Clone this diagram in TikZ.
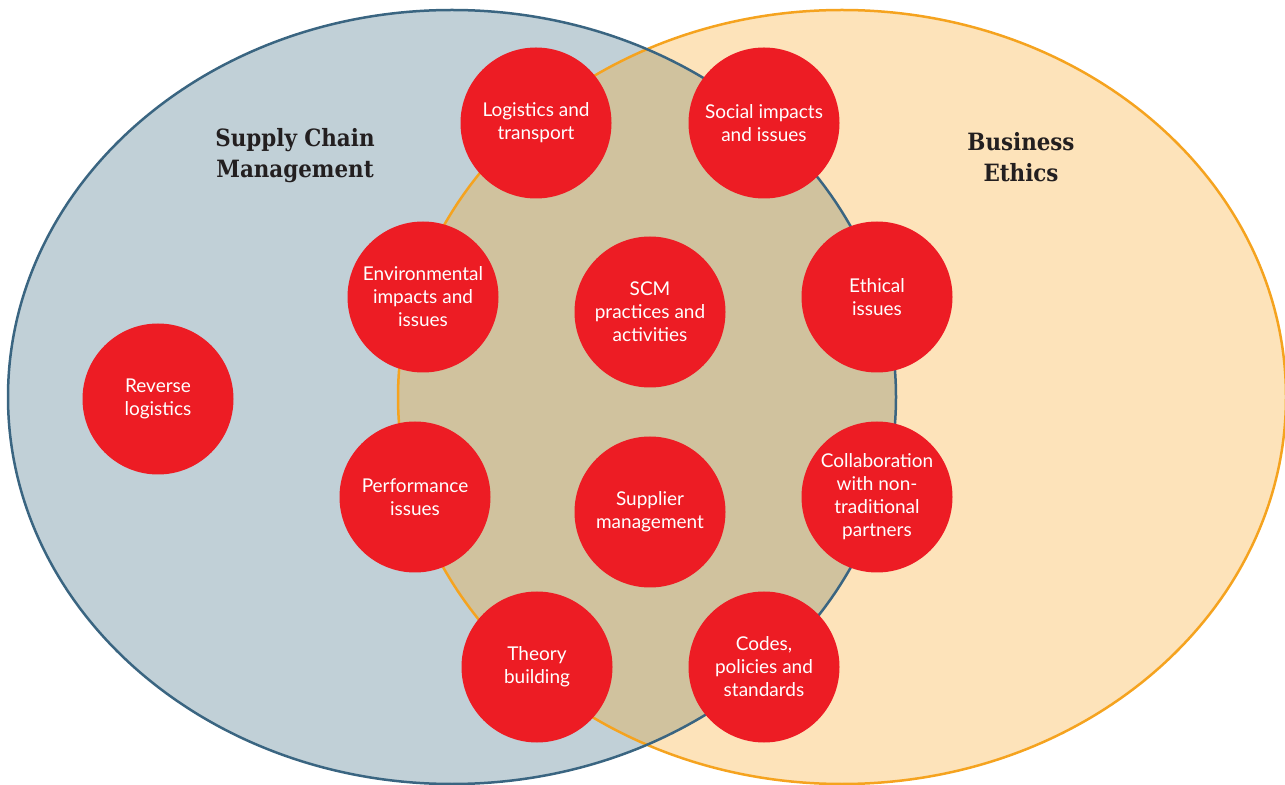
\documentclass[tikz,border=0pt]{standalone}
\usepackage{fontspec}
\setmainfont{Lato}
\newfontfamily\titlefont{DejaVu Serif Condensed}
\usetikzlibrary{positioning}
\definecolor{scmfill}{HTML}{C1D0D7}
\definecolor{scmline}{HTML}{3A6581}
\definecolor{ethicsfill}{HTML}{FDE3BA}
\definecolor{ethicsline}{HTML}{F5A31F}
\definecolor{bothfill}{HTML}{D0C29E}
\definecolor{topicred}{HTML}{ED1C24}
\definecolor{titletext}{HTML}{231F20}

\begin{document}
\begin{tikzpicture}[
    x=0.5pt, y=-0.5pt,
    every node/.style={align=center},
    topic/.style={circle, fill=topicred, text=white, minimum size=75.5pt, inner sep=0pt, font=\fontsize{9.5}{11.5}\selectfont},
    heading/.style={text=titletext, font=\titlefont\bfseries\fontsize{11.9}{15.5}\selectfont},
    setline/.style={line width=1.25pt}
]
\useasboundingbox (0,0) rectangle (1285,785);

% the two sets and their overlap
\fill[scmfill] (452,397) ellipse [x radius=444, y radius=387];
\fill[ethicsfill] (842,397) ellipse [x radius=444, y radius=387];
\begin{scope}
    \clip (452,397) ellipse [x radius=444, y radius=387];
    \fill[bothfill] (842,397) ellipse [x radius=444, y radius=387];
\end{scope}
\draw[setline, ethicsline] (842,397) ellipse [x radius=444, y radius=387];
\draw[setline, scmline] (452,397) ellipse [x radius=444, y radius=387];

\node[heading] (scm) at (295,156) {Supply Chain\\Management};
\node[heading] (ethics) at (1021,157) {Business\\Ethics};

\node[topic] (1) at (536,123) {Logistics and\\transport};
\node[topic] (2) at (764,123) {Social impacts\\and issues};
\node[topic] (3) at (423,297) {Environmental\\impacts and\\issues};
\node[topic] (4) at (650,312) {SCM\\practices and\\activities};
\node[topic] (5) at (877,297) {Ethical\\issues};
\node[topic] (6) at (158,399) {Reverse\\logistics};
\node[topic] (7) at (415,497) {Performance\\issues};
\node[topic] (8) at (650,512) {Supplier\\management};
\node[topic] (9) at (877,497) {Collaboration\\with non-\\traditional\\partners};
\node[topic] (10) at (537,667) {Theory\\building};
\node[topic] (11) at (764,667) {Codes,\\policies and\\standards};

\end{tikzpicture}
\end{document}
